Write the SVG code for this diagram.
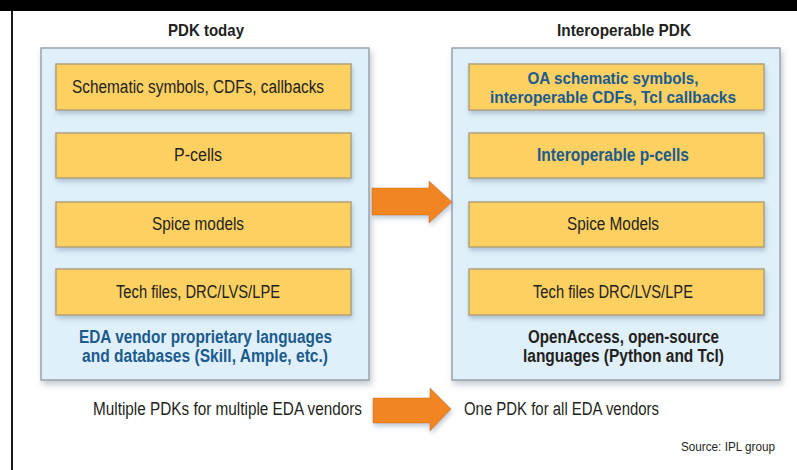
<svg xmlns="http://www.w3.org/2000/svg" width="797" height="470" viewBox="0 0 797 470">
<style>
.panel{fill:#e0f0fa;stroke:#98a3ac;stroke-width:1.5}
.box{fill:#fdd062;stroke:#b2a07a;stroke-width:1.5}
.arrow{fill:#f18522;stroke:#c96a1a;stroke-width:0.5}
text{font-family:"Liberation Sans",Arial,sans-serif}
.t{font-size:18px;fill:#231f20;text-anchor:middle}
.b{font-size:18px;font-weight:bold;fill:#1b5b8e;text-anchor:middle}
.b2{font-size:16.5px;font-weight:bold;fill:#1b5b8e;text-anchor:middle}
.k{font-size:18px;font-weight:bold;fill:#231f20;text-anchor:middle}
.h{font-size:17px;font-weight:bold;fill:#231f20;text-anchor:middle}
.n{font-size:18px;fill:#231f20}
.s{font-size:12px;fill:#231f20}
</style>
<defs>
<filter id="sh" x="-10%" y="-10%" width="125%" height="130%">
<feDropShadow dx="2" dy="4" stdDeviation="3" flood-color="#7a8a96" flood-opacity="0.45"/>
</filter>
<filter id="sh2" x="-10%" y="-20%" width="125%" height="160%">
<feDropShadow dx="1" dy="3" stdDeviation="2.5" flood-color="#6f8aa0" flood-opacity="0.45"/>
</filter>
</defs>
<rect x="0" y="0" width="797" height="470" fill="#ffffff"/>
<rect x="0" y="0" width="797" height="11" fill="#000000"/>
<rect x="11" y="11" width="2" height="459" fill="#1a1a1a"/>

<g id="title-left"><text class="h" x="206" y="36" textLength="76" lengthAdjust="spacingAndGlyphs">PDK today</text></g>
<g id="title-right"><text class="h" x="624" y="36" textLength="134" lengthAdjust="spacingAndGlyphs">Interoperable PDK</text></g>

<g id="panel-left">
<rect class="panel" x="41" y="48" width="328" height="332" filter="url(#sh)"/>
<text class="b" x="205.5" y="343" textLength="253" lengthAdjust="spacingAndGlyphs">EDA vendor proprietary languages</text>
<text class="b" x="205" y="362" textLength="246" lengthAdjust="spacingAndGlyphs">and databases (Skill, Ample, etc.)</text>
</g>
<g id="panel-right">
<rect class="panel" x="452" y="48" width="328" height="332" filter="url(#sh)"/>
<text class="k" x="623.5" y="343" textLength="191" lengthAdjust="spacingAndGlyphs">OpenAccess, open-source</text>
<text class="k" x="623.5" y="362" textLength="201" lengthAdjust="spacingAndGlyphs">languages (Python and Tcl)</text>
</g>

<g id="left-schematic"><rect class="box" x="56" y="64" width="295" height="46" filter="url(#sh2)"/>
<text class="t" x="198" y="93" textLength="252" lengthAdjust="spacingAndGlyphs">Schematic symbols, CDFs, callbacks</text></g>
<g id="left-pcells"><rect class="box" x="56" y="133" width="295" height="45" filter="url(#sh2)"/>
<text class="t" x="198" y="161" textLength="48" lengthAdjust="spacingAndGlyphs">P-cells</text></g>
<g id="left-spice"><rect class="box" x="56" y="202" width="295" height="45" filter="url(#sh2)"/>
<text class="t" x="198" y="230" textLength="92" lengthAdjust="spacingAndGlyphs">Spice models</text></g>
<g id="left-tech"><rect class="box" x="56" y="269" width="295" height="46" filter="url(#sh2)"/>
<text class="t" x="198" y="298" textLength="164" lengthAdjust="spacingAndGlyphs">Tech files, DRC/LVS/LPE</text></g>

<g id="right-schematic"><rect class="box" x="469" y="64" width="295" height="46" filter="url(#sh2)"/>
<text class="b2" x="613" y="84" textLength="171" lengthAdjust="spacingAndGlyphs">OA schematic symbols,</text>
<text class="b2" x="613" y="103" textLength="246" lengthAdjust="spacingAndGlyphs">interoperable CDFs, Tcl callbacks</text></g>
<g id="right-pcells"><rect class="box" x="469" y="133" width="295" height="45" filter="url(#sh2)"/>
<text class="b" x="613" y="161" textLength="152" lengthAdjust="spacingAndGlyphs">Interoperable p-cells</text></g>
<g id="right-spice"><rect class="box" x="469" y="202" width="295" height="45" filter="url(#sh2)"/>
<text class="t" x="613" y="230" textLength="92" lengthAdjust="spacingAndGlyphs">Spice Models</text></g>
<g id="right-tech"><rect class="box" x="469" y="269" width="295" height="46" filter="url(#sh2)"/>
<text class="t" x="613" y="298" textLength="160" lengthAdjust="spacingAndGlyphs">Tech files DRC/LVS/LPE</text></g>

<g id="connectors">
<path class="arrow" d="M372,188 H429 V181 L452,202 L429,223 V215 H372 Z" filter="url(#sh2)"/>
<path class="arrow" d="M373,398 H430 V388 L451,409 L430,431 V423 H373 Z" filter="url(#sh2)"/>
</g>

<g id="bottom-left"><text class="n" x="93" y="415" textLength="269" lengthAdjust="spacingAndGlyphs">Multiple PDKs for multiple EDA vendors</text></g>
<g id="bottom-right"><text class="n" x="464" y="415" textLength="195" lengthAdjust="spacingAndGlyphs">One PDK for all EDA vendors</text></g>
<g id="source"><text class="s" x="681" y="451" textLength="94" lengthAdjust="spacingAndGlyphs">Source: IPL group</text></g>
</svg>
